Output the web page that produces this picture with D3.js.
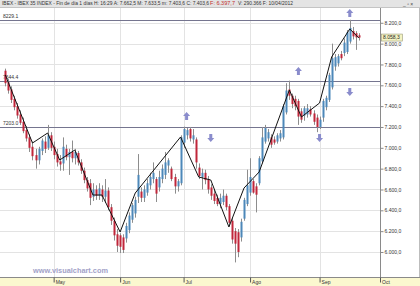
<!DOCTYPE html>
<html><head><meta charset="utf-8">
<script src="https://cdn.jsdelivr.net/npm/d3@7"></script>
<style>body{margin:0;background:#fff}svg{display:block}text{font-family:"Liberation Sans",Arial,sans-serif}</style>
</head><body><svg id="c" width="420" height="286"></svg>
<script>
// trading sessions (MM-DD, 2012) shown on the time axis
const sessions = ["04-05","04-10","04-11","04-12","04-13","04-16","04-17","04-18","04-19","04-20","04-23","04-24","04-25","04-26","04-27","04-30",
"05-02","05-03","05-04","05-07","05-08","05-09","05-10","05-11","05-14","05-15","05-16","05-17","05-18","05-21","05-22","05-23","05-24","05-25","05-28","05-29","05-30","05-31",
"06-01","06-04","06-05","06-06","06-07","06-08","06-11","06-12","06-13","06-14","06-15","06-18","06-19","06-20","06-21","06-22","06-25","06-26","06-27","06-28","06-29",
"07-02","07-03","07-04","07-05","07-06","07-09","07-10","07-11","07-12","07-13","07-16","07-17","07-18","07-19","07-20","07-23","07-24","07-25","07-26","07-27","07-30","07-31",
"08-01","08-02","08-03","08-06","08-07","08-08","08-09","08-10","08-13","08-14","08-15","08-16","08-17","08-20","08-21","08-22","08-23","08-24","08-27","08-28","08-29","08-30","08-31",
"09-03","09-04","09-05","09-06","09-07","09-10","09-11","09-12","09-13","09-14","09-17","09-18","09-19","09-20","09-21","09-24","09-25","09-26","09-27","09-28","10-01"];

const open  = [7740,7630,7560,7470,7400,7320,7250,7170,7100,7010,6930,6880,6970,7060,7000,7120,7010,6940,6870,6850,6990,6910,6960,6900,6950,6860,6780,6690,6660,6530,6600,6540,6600,6530,6590,6430,6300,6170,6160,6140,6130,6210,6310,6370,6530,6580,6520,6570,6640,6700,6700,6620,6700,6740,6830,6800,6720,6630,6660,7050,7120,7180,7080,7080,6810,6720,6760,6700,6620,6560,6520,6460,6480,6540,6440,6300,6200,6190,6140,6320,6460,6570,6680,6630,6660,6870,7060,7090,7100,7080,7060,7090,7100,7340,7560,7500,7470,7450,7350,7310,7320,7370,7330,7290,7200,7290,7390,7460,7580,7780,7810,7900,7910,7920,8020,8120,8100,8080];
const high  = [7760,7660,7590,7500,7430,7360,7290,7210,7130,7060,6990,7010,7090,7110,7220,7150,7060,6990,6930,7100,7030,6990,7070,6990,6970,6890,6810,6720,6700,6660,6640,6660,6640,6700,6620,6460,6330,6220,6180,6170,6280,6380,6470,6530,6940,6620,6640,6700,6760,6860,6720,6780,6840,6960,6900,6820,6750,6700,7120,7203,7190,7200,7180,7100,6850,6800,6790,6730,6650,6600,6550,6560,6600,6560,6460,6330,6230,6220,6320,6520,6790,6900,6700,6660,6920,7200,7220,7180,7130,7110,7140,7170,7420,7620,7644.4,7520,7500,7470,7380,7400,7420,7400,7360,7320,7300,7470,7500,7720,8000,7900,7900,7930,8050,8130,8229.1,8160,8120,8100];
const low   = [7590,7520,7430,7360,7280,7220,7140,7060,6960,6880,6800,6840,6930,6950,6980,6970,6890,6820,6780,6780,6880,6740,6860,6840,6830,6750,6660,6580,6450,6490,6500,6500,6480,6470,6400,6260,6110,6000,5990,5990,6090,6180,6280,6330,6470,6480,6480,6540,6600,6660,6480,6580,6660,6700,6760,6680,6560,6580,6640,7000,7080,7060,7040,6800,6700,6600,6650,6560,6500,6460,6440,6420,6450,6400,6250,6080,5900,5950,6100,6300,6440,6540,6560,6380,6640,6850,7040,7060,7000,7030,7040,7060,7080,7320,7460,7380,7360,7220,7240,7260,7290,7300,7220,7150,7180,7250,7360,7440,7560,7740,7780,7840,7880,7900,8000,8040,7940,8030];
const close = [7620,7550,7460,7390,7310,7240,7160,7090,7000,6920,6880,6990,7070,6990,7120,7000,6930,6860,6840,7010,6910,6960,6900,6960,6860,6780,6690,6610,6520,6600,6540,6610,6530,6590,6430,6300,6160,6060,6050,6020,6250,6350,6450,6500,6740,6520,6600,6660,6720,6760,6560,6720,6800,6860,6880,6700,6630,6680,7100,7180,7170,7090,7120,6860,6730,6760,6690,6600,6540,6490,6460,6520,6540,6430,6280,6120,6080,6000,6290,6500,6640,6720,6570,6550,6900,7100,7190,7150,7030,7050,7120,7140,7400,7550,7500,7420,7400,7300,7270,7380,7380,7320,7250,7200,7270,7450,7480,7700,7860,7870,7880,7860,8010,8110,8150,8070,8060,8058.3];

const yTicks = [6000,6200,6400,6600,6800,7000,7200,7400,7600,7800,8000,8200];
const monthNames = ["Ene","Feb","Mar","Abr","May","Jun","Jul","Ago","Sep","Oct","Nov","Dic"];
const levels = [8229.1, 7644.4, 7203.0];
const levelLabels = ["8229.1","7644.4","7203.0"];
const zigzagDates  = ["04-05","04-20","04-27","05-04","05-11","05-21","05-24","06-01","06-08","06-29","07-09","07-13","07-23","07-30","08-06","08-20","08-24","09-03","09-07","09-17","09-20"];
const zigzagValues = [7700,7046,7142,6883,6979,6547,6547,6192,6566,7104,6720,6691,6240,6614,6768,7555,7296,7430,7872,8141,8054];
const upArrowDates = ["07-03","08-23","09-17"];
const upArrowValues = [7305,7738,8294];
const downArrowDates = ["07-13","09-03","09-17"];
const downArrowValues = [7094,7094,7536];
const lastPrice = 8058.3;
const headerMain = "IBEX - IBEX 35 INDEX - Fin de día 1 días H: 16:29 A: 7.662,5 M: 7.633,5 m: 7.403,6 C: 7.403,6";
const headerRed = "F: 6.397,7";
const headerTail = "V: 290.366 F: 10/04/2012";
const watermark = "www.visualchart.com";

const W = 420, H = 286, plotL = 0, plotR = 380, plotT = 8, plotB = 277;
const svg = d3.select("#c");
const es = d3.formatLocale({decimal:",", thousands:".", grouping:[3], currency:["","€"]});
const fmt = es.format(",.1f");

const x = d3.scaleLinear().domain([0, sessions.length - 1]).range([5.3, 380]);
const y = d3.scaleLinear().domain([5760, 8342]).range([plotB, plotT]);
const idx = d => sessions.indexOf(d);

// backgrounds
svg.append("rect").attr("width", W).attr("height", H).attr("fill", "#fff");
svg.append("rect").attr("x", 0).attr("y", plotB).attr("width", W).attr("height", H - plotB).attr("fill", "#fbf8cf");

// month ticks
const monthIdx = sessions.map((s, i) => i).filter(i => i > 0 && sessions[i].slice(0,2) !== sessions[i-1].slice(0,2));

// grid
svg.append("g").selectAll("line").data(yTicks).join("line")
  .attr("x1", plotL).attr("x2", plotR).attr("y1", d => Math.round(y(d)) + 0.5).attr("y2", d => Math.round(y(d)) + 0.5)
  .attr("stroke", "#e3e3e3");
svg.append("g").selectAll("line").data(monthIdx).join("line")
  .attr("x1", d => Math.round(x(d)) + 0.5).attr("x2", d => Math.round(x(d)) + 0.5).attr("y1", plotT).attr("y2", plotB)
  .attr("stroke", "#e3e3e3");

// watermark
svg.append("text").attr("x", 33).attr("y", 273).attr("font-size", 7).attr("font-weight", "bold")
  .attr("fill", "#a2a2c8").attr("textLength", 75).attr("lengthAdjust", "spacingAndGlyphs").text(watermark);

// level lines
const lv = svg.append("g");
lv.selectAll("line").data(levels).join("line")
  .attr("x1", plotL).attr("x2", plotR).attr("y1", d => Math.round(y(d)) + 0.5).attr("y2", d => Math.round(y(d)) + 0.5)
  .attr("stroke", "#75758f");
lv.selectAll("text").data(levels).join("text")
  .attr("x", 3).attr("y", d => y(d) - 1.5).attr("font-size", 5).attr("fill", "#333")
  .text((d, i) => levelLabels[i]);

// candles
const clipG = svg.append("g");
const candles = open.map((o, i) => ({i, o, h: high[i], l: low[i], c: close[i]}));
clipG.selectAll("line.w").data(candles).join("line").attr("class", "w")
  .attr("x1", d => Math.round(x(d.i)) + 0.5).attr("x2", d => Math.round(x(d.i)) + 0.5)
  .attr("y1", d => y(d.h)).attr("y2", d => y(d.l)).attr("stroke", "#8d8d8d").attr("stroke-width", 1);
clipG.selectAll("rect.b").data(candles).join("rect").attr("class", "b")
  .attr("x", d => Math.round(x(d.i)) - 0.5).attr("width", 2)
  .attr("y", d => y(Math.max(d.o, d.c)))
  .attr("height", d => Math.max(1, Math.abs(y(d.o) - y(d.c))))
  .attr("fill", d => d.c >= d.o ? "#4d88b9" : "#c0263a");

// zigzag
svg.append("path")
  .attr("d", d3.line().x((d, i) => x(idx(d))).y((d, i) => y(zigzagValues[i]))(zigzagDates))
  .attr("fill", "none").attr("stroke", "#111").attr("stroke-width", 1);

// arrows
const arrowCol = "#8a8ccc";
svg.append("g").selectAll("path").data(upArrowDates).join("path")
  .attr("transform", (d, i) => `translate(${x(idx(d))},${y(upArrowValues[i])})`)
  .attr("d", "M0,-4L3.5,0L1.5,0L1.5,4L-1.5,4L-1.5,0L-3.5,0Z").attr("fill", arrowCol);
svg.append("g").selectAll("path").data(downArrowDates).join("path")
  .attr("transform", (d, i) => `translate(${x(idx(d))},${y(downArrowValues[i])})`)
  .attr("d", "M0,4L3.5,0L1.5,0L1.5,-4L-1.5,-4L-1.5,0L-3.5,0Z").attr("fill", arrowCol);

// y axis (right)
const ya = svg.append("g").attr("transform", `translate(${plotR + 0.5},0)`)
  .call(d3.axisRight(y).tickValues(yTicks).tickSize(3).tickPadding(1).tickFormat(fmt));
ya.select(".domain").attr("stroke", "#8a8a8a").attr("d", `M0,${plotT}V${plotB}`);
ya.selectAll(".tick line").attr("stroke", "#8a8a8a");
ya.selectAll(".tick text").attr("font-size", 5).attr("fill", "#333").attr("font-family", "Liberation Sans, Arial, sans-serif");

// last price label
const lpY = y(lastPrice);
svg.append("rect").attr("x", 381.5).attr("y", lpY - 3.5).attr("width", 21).attr("height", 7)
  .attr("fill", "#f3f3c2").attr("stroke", "#9a9a7a").attr("stroke-width", 0.6);
svg.append("text").attr("x", 383).attr("y", lpY + 1.8).attr("font-size", 5).attr("fill", "#222").text(fmt(lastPrice));

// x axis
const xa = svg.append("g").attr("transform", `translate(0,${plotB + 0.5})`)
  .call(d3.axisBottom(x).tickValues(monthIdx).tickSize(5).tickFormat(i => monthNames[+sessions[i].slice(0,2) - 1]));
xa.select(".domain").attr("stroke", "#8a8a8a").attr("d", `M0,0H${W}`);
xa.selectAll(".tick line").attr("stroke", "#555");
xa.selectAll(".tick text").attr("font-size", 5).attr("fill", "#333").attr("text-anchor", "start")
  .attr("x", 1.5).attr("y", 6.5).attr("dy", 0).attr("font-family", "Liberation Sans, Arial, sans-serif");

// header bar
svg.append("rect").attr("x", 0).attr("y", 0).attr("width", W).attr("height", 7).attr("fill", "#e4e4e4");
svg.append("line").attr("x1", 0).attr("x2", W).attr("y1", 7.5).attr("y2", 7.5).attr("stroke", "#c4c4c4");
svg.append("text").attr("x", 2).attr("y", 5.3).attr("font-size", 4.6).attr("fill", "#333")
  .attr("textLength", 207).attr("lengthAdjust", "spacingAndGlyphs").text(headerMain);
svg.append("text").attr("x", 210).attr("y", 5.3).attr("font-size", 4.6).attr("fill", "#c03030")
  .attr("textLength", 25).attr("lengthAdjust", "spacingAndGlyphs").text(headerRed);
svg.append("text").attr("x", 238).attr("y", 5.3).attr("font-size", 4.6).attr("fill", "#333")
  .attr("textLength", 55).attr("lengthAdjust", "spacingAndGlyphs").text(headerTail);
svg.append("text").attr("x", 403).attr("y", 5.5).attr("font-size", 5).attr("fill", "#444").text("_ ▫ ×");
svg.append("line").attr("x1", W - 0.5).attr("x2", W - 0.5).attr("y1", 8).attr("y2", plotB).attr("stroke", "#bdbdbd");
</script></body></html>
